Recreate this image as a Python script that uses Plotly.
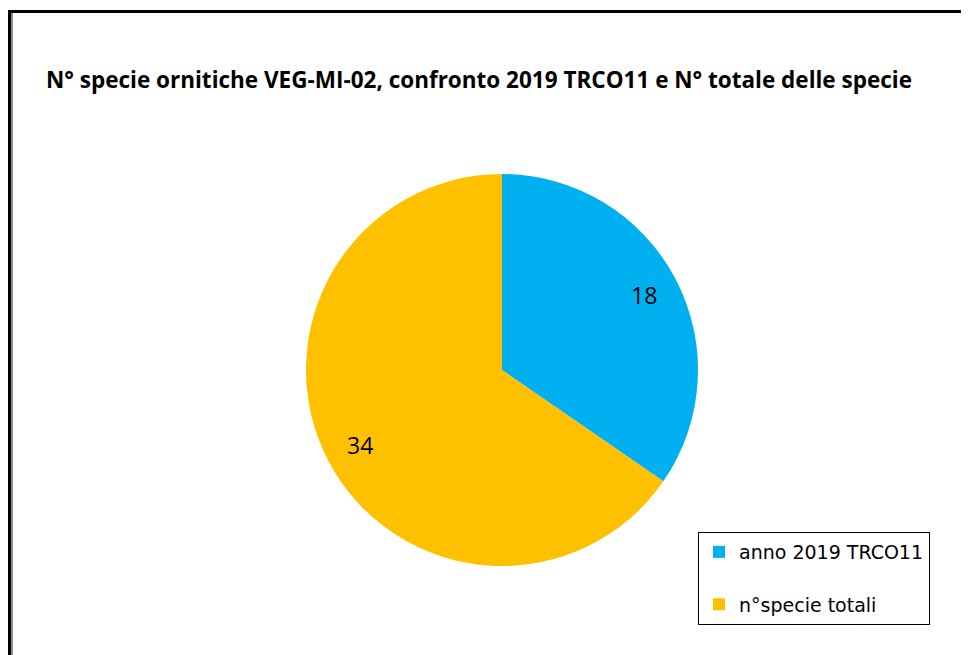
import math
import plotly.graph_objects as go

labels = ["anno 2019 TRCO11", "n°specie totali"]
values = [18, 34]
colors = ["#00B0F0", "#FFC000"]
title = "N° specie ornitiche VEG-MI-02, confronto 2019 TRCO11 e N° totale delle specie"

W, H = 969, 655
OFF = 8  # page body margin
def px(x):
    return (x - OFF) / W
def py(y):
    return 1 - (y - OFF) / H

# pie geometry (screen px)
CX, CY, R = 502, 370, 196

legend_labels = [labels[0] + "<br> ", labels[1]]

fig = go.Figure(go.Pie(
    labels=legend_labels,
    values=values,
    marker=dict(colors=colors, line=dict(width=0)),
    sort=False,
    direction="clockwise",
    rotation=0,
    textinfo="none",
    hoverinfo="skip",
    domain=dict(x=[px(CX - R), px(CX + R)], y=[py(CY + R), py(CY - R)]),
))

# value labels placed along each slice's mid angle
annotations = []
total = sum(values)
cum = 0
for v in values:
    mid = (cum + v / 2) / total * 2 * math.pi
    cum += v
    r = 0.82 * R
    x = CX + r * math.sin(mid)
    y = CY - r * math.cos(mid)
    annotations.append(dict(
        text=str(v), x=px(x), y=py(y), xref="paper", yref="paper",
        xanchor="center", yanchor="middle", showarrow=False,
        font=dict(family="Open Sans", size=23, color="black"),
    ))

annotations.append(dict(
    text="<b>" + title + "</b>", x=px(479), y=py(79), xref="paper", yref="paper",
    xanchor="center", yanchor="middle", showarrow=False,
    font=dict(family="Open Sans", size=22.5, color="black"),
))

fig.update_layout(
    width=W, height=H,
    margin=dict(l=0, r=0, t=0, b=0),
    paper_bgcolor="white",
    plot_bgcolor="white",
    showlegend=True,
    legend=dict(
        x=px(698), y=py(532), xanchor="left", yanchor="top",
        bgcolor="white", bordercolor="black", borderwidth=1,
        font=dict(family="DejaVu Sans", size=19, color="black"),
        valign="top",
    ),
    annotations=annotations,
    shapes=[
        dict(type="line", xref="paper", yref="paper", x0=px(9.5), x1=px(9.5), y0=py(10), y1=-0.05,
             line=dict(color="black", width=3)),
        dict(type="line", xref="paper", yref="paper", x0=px(8), x1=1.05, y0=py(11.5), y1=py(11.5),
             line=dict(color="black", width=3)),
        dict(type="line", xref="paper", yref="paper", x0=px(12), x1=px(12), y0=py(13), y1=-0.05,
             line=dict(color="#909090", width=2)),
    ],
)

fig.write_html("out.html")
